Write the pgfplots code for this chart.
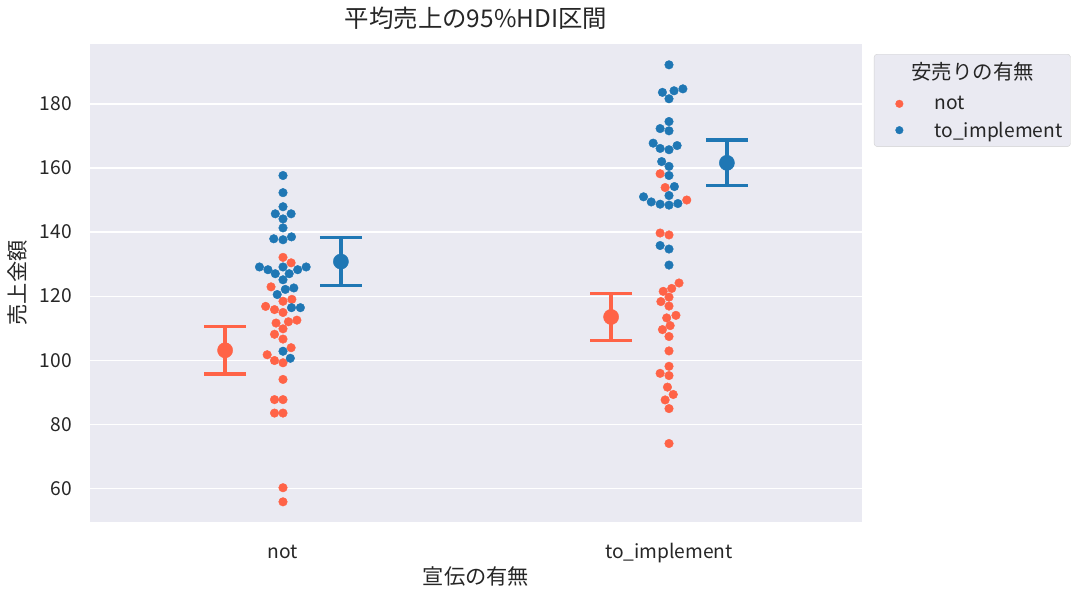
\documentclass[border=0pt]{standalone}
\usepackage{pgfplots}
\pgfplotsset{compat=1.18}
\usepackage{fontspec}
\setmainfont{Noto Sans CJK JP}
\definecolor{bg}{HTML}{EAEAF2}
\definecolor{cO}{HTML}{FF6347}
\definecolor{cB}{HTML}{1F77B4}
\definecolor{txt}{HTML}{262626}
\pgfplotsset{
  swarmlegend/.style={legend image code/.code={\draw[#1, mark size=3.8bp] plot coordinates {(21bp,0bp)}; \path (0bp,0bp) (52bp,0bp);}},
}
\begin{document}
\begin{tikzpicture}
\useasboundingbox (0bp,0bp) rectangle (1083bp,593bp);
\begin{axis}[
  at={(90bp,71bp)}, anchor=south west,
  scale only axis, width=772bp, height=478bp,
  xmin=-0.5, xmax=1.5, ymin=49.5, ymax=198.7,
  axis background/.style={fill=bg},
  axis line style={draw=none},
  ymajorgrids, major grid style={white, line width=1.2bp},
  xtick={0,1}, xticklabels={not,to\_implement},
  ytick={60,80,...,180},
  major tick length=0pt,
  /pgf/number format/assume math mode=true,
  tick label style={font=\fontsize{19.3}{21}\selectfont, text=txt},
  yticklabel style={anchor=east, inner sep=0pt, xshift=-18bp},
  xticklabel style={anchor=base, inner sep=0pt, yshift=-36bp},
  title={平均売上の95\%HDI区間},
  title style={at={(0.5,1)}, anchor=center, yshift=20bp, font=\fontsize{24.5}{28}\selectfont, text=txt},
  xlabel={宣伝の有無},
  xlabel style={at={(0.5,0)}, anchor=center, yshift=-54bp, font=\fontsize{21.3}{24}\selectfont, text=txt},
  ylabel={売上金額},
  ylabel style={at={(0,0.5)}, anchor=center, yshift=73bp, font=\fontsize{21.3}{24}\selectfont, text=txt},
  legend style={at={(1.0155,0.979)}, anchor=north west, fill=bg, draw=black!18, rounded corners=3bp,
    font=\fontsize{19.3}{21}\selectfont, text=txt, row sep=7.5bp, inner xsep=4bp, inner ysep=6.5bp,
    nodes={inner xsep=4bp, inner ysep=1.5bp}},
  legend cell align=left,
  clip=false,
]
\addlegendimage{empty legend}
\addlegendentry{\hspace*{-23bp}\fontsize{20.5}{24}\selectfont\raisebox{5bp}{安売りの有無}}

% swarm: hue = not (orange)
\addplot[only marks, mark=*, mark size=4.3bp, color=cO, swarmlegend] coordinates {
(0,132.1) (0.021,130.4) (-0.031,122.9) (0,118.4) (0.023,119.0)
(-0.045,116.8) (-0.022,115.8) (0,114.9) (-0.018,111.6) (0.014,112.0)
(0.036,112.5) (0,109.8) (-0.022,108.1) (0,106.6) (0.021,103.9)
(-0.041,101.7) (-0.022,99.9) (0,99.2) (0,94.0) (-0.022,87.7)
(0,87.7) (-0.022,83.5) (0,83.5) (0,60.2) (0,55.8)
(0.977,158.2) (0.990,153.9) (1.046,150.0) (0.977,139.7) (1,139.1)
(1.026,124.1) (1.007,122.4) (0.985,121.5) (1,119.7) (0.979,118.3)
(1,116.9) (1.018,114.0) (0.994,113.2) (1.003,110.8) (0.983,109.55)
(1,107.4) (1,102.9) (1,98.1) (0.977,95.9) (1,95.2)
(0.996,91.6) (1.011,89.3) (0.990,87.6) (1,84.9) (1,74.0)
};
\addlegendentry{not}
% swarm: hue = to_implement (blue)
\addplot[only marks, mark=*, mark size=4.3bp, color=cB, swarmlegend] coordinates {
(0,157.65) (0,152.3) (0,147.9) (-0.020,145.7) (0.021,145.7)
(0,144.1) (0,141.3) (-0.024,137.9) (0,137.6) (0.022,138.5)
(-0.061,129.1) (-0.039,128.25) (-0.020,127.0) (0,129.1) (0.016,127.0)
(0.038,128.25) (0.060,129.1) (0,125.1) (0.006,122.1) (0.028,122.55)
(-0.015,120.5) (0.022,116.4) (0.045,116.4) (0,102.8) (0.019,100.6)
(1,192.2) (0.983,183.6) (1.013,184.1) (1.036,184.7) (1,181.6)
(1,174.5) (0.977,172.3) (1,171.6) (0.959,167.75) (0.977,166.1)
(1,165.7) (1.021,167.0) (0.981,162.0) (1,160.5) (1,157.65)
(1.014,154.2) (1,151.4) (0.934,151.0) (0.954,149.4) (0.977,148.7)
(1,148.4) (1.023,148.9) (0.977,135.8) (1,134.7) (1,129.7)
};
\addlegendentry{to\_implement}

% point estimates with 95% HDI
\addplot[forget plot, only marks, mark=*, mark size=7.6bp, color=cO,
  error bars/.cd, y dir=both, y explicit,
  error bar style={line width=3.3bp, color=cO},
  error mark options={rotate=90, mark size=21bp, line width=3.3bp, color=cO}]
  coordinates {
  (-0.15,103.1) +- (0,7.45)
  (0.85,113.5) +- (0,7.3)
};
\addplot[forget plot, only marks, mark=*, mark size=7.6bp, color=cB,
  error bars/.cd, y dir=both, y explicit,
  error bar style={line width=3.3bp, color=cB},
  error mark options={rotate=90, mark size=21bp, line width=3.3bp, color=cB}]
  coordinates {
  (0.15,130.8) +- (0,7.45)
  (1.15,161.6) +- (0,7.15)
};
\end{axis}
\end{tikzpicture}
\end{document}
